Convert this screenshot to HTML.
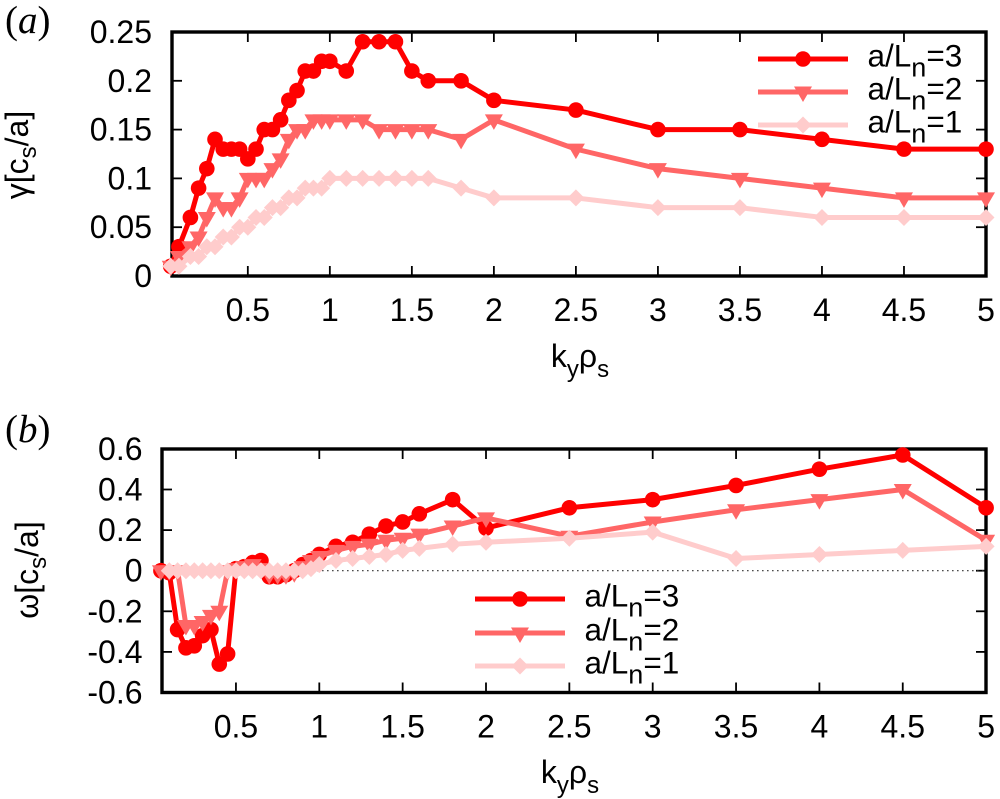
<!DOCTYPE html>
<html>
<head>
<meta charset="utf-8">
<style>
html,body{margin:0;padding:0;background:#fff;}
svg{display:block;}
text{font-family:"Liberation Sans",sans-serif;fill:#000;}
</style>
</head>
<body>
<svg id="chart" width="1000" height="799" viewBox="0 0 1000 799" xmlns="http://www.w3.org/2000/svg"></svg>
<script>
// ---- data ----
const xTickValues = [0.5, 1, 1.5, 2, 2.5, 3, 3.5, 4, 4.5, 5];
const xTickLabels = ['0.5', '1', '1.5', '2', '2.5', '3', '3.5', '4', '4.5', '5'];
const gammaTickValues = [0, 0.05, 0.1, 0.15, 0.2, 0.25];
const gammaTickLabels = ['0', '0.05', '0.1', '0.15', '0.2', '0.25'];
const omegaTickValues = [-0.6, -0.4, -0.2, 0, 0.2, 0.4, 0.6];
const omegaTickLabels = ['-0.6', '-0.4', '-0.2', '0', '0.2', '0.4', '0.6'];

const kGamma = [0.03,0.08,0.15,0.2,0.25,0.3,0.35,0.4,0.45,0.5,0.55,0.6,0.65,0.7,0.75,0.8,0.85,0.9,0.95,1,1.1,1.2,1.3,1.4,1.5,1.6,1.8,2,2.5,3,3.5,4,4.5,5];
const gammaLn3 = [0.01,0.03,0.06,0.09,0.11,0.14,0.13,0.13,0.13,0.12,0.13,0.15,0.15,0.16,0.18,0.19,0.21,0.21,0.22,0.22,0.21,0.24,0.24,0.24,0.21,0.2,0.2,0.18,0.17,0.15,0.15,0.14,0.13,0.13];
const gammaLn2 = [0.01,0.02,0.03,0.04,0.06,0.08,0.07,0.07,0.08,0.1,0.1,0.1,0.11,0.12,0.14,0.15,0.15,0.16,0.16,0.16,0.16,0.16,0.15,0.15,0.15,0.15,0.14,0.16,0.13,0.11,0.1,0.09,0.08,0.08];
const gammaLn1 = [0.01,0.01,0.02,0.02,0.03,0.03,0.04,0.04,0.05,0.05,0.06,0.06,0.07,0.07,0.08,0.08,0.09,0.09,0.09,0.1,0.1,0.1,0.1,0.1,0.1,0.1,0.09,0.08,0.08,0.07,0.07,0.06,0.06,0.06];

const kOmega = [0.05,0.1,0.15,0.2,0.25,0.3,0.35,0.4,0.45,0.5,0.55,0.6,0.65,0.7,0.75,0.8,0.85,0.9,0.95,1,1.1,1.2,1.3,1.4,1.5,1.6,1.8,2,2.5,3,3.5,4,4.5,5];
const omegaLn3 = [0,-0.01,-0.29,-0.38,-0.37,-0.32,-0.29,-0.46,-0.41,0.01,0.02,0.04,0.05,-0.03,-0.03,-0.02,0,0.03,0.05,0.08,0.12,0.14,0.18,0.22,0.24,0.28,0.35,0.21,0.31,0.35,0.42,0.5,0.57,0.31];
const omegaLn2 = [0,0,0,-0.27,-0.27,-0.25,-0.22,-0.2,0,0.01,0.02,0.03,0.01,-0.02,-0.02,-0.02,-0.01,0.02,0.05,0.07,0.1,0.12,0.13,0.15,0.16,0.18,0.22,0.26,0.17,0.24,0.3,0.35,0.4,0.15];
const kOmegaLight = [0.1,0.15,0.2,0.25,0.3,0.35,0.4,0.45,0.5,0.55,0.6,0.65,0.7,0.75,0.8,0.85,0.9,0.95,1,1.1,1.2,1.3,1.4,1.5,1.6,1.8,2,2.5,3,3.5,4,4.5,5];
const omegaLn1 = [0,0,0,0,0,0,0,0,0,0,0,0,0,0,0,0,0,0.01,0.03,0.05,0.06,0.07,0.08,0.1,0.11,0.13,0.14,0.16,0.19,0.06,0.08,0.1,0.12];

const seriesLabels = ['3', '2', '1'];

// ---- helpers ----
const NS = 'http://www.w3.org/2000/svg';
const svg = document.getElementById('chart');
const COLORS = ['#ff0000', '#ff6666', '#ffcccc'];
function mk(tag, attrs, parent) {
  const el = document.createElementNS(NS, tag);
  for (const k in attrs) el.setAttribute(k, attrs[k]);
  (parent || svg).appendChild(el);
  return el;
}
function marker(group, kind, x, y, color) {
  let el;
  if (kind === 0) {
    el = mk('circle', {cx: x, cy: y, r: 7.8, fill: color}, group);
  } else if (kind === 1) {
    el = mk('polygon', {points: (x-9)+','+(y-5.5)+' '+(x+9)+','+(y-5.5)+' '+x+','+(y+10), fill: color}, group);
  } else {
    el = mk('polygon', {points: (x-8.5)+','+y+' '+x+','+(y-8.5)+' '+(x+8.5)+','+y+' '+x+','+(y+8.5), fill: color}, group);
  }
  return el;
}
function drawSeries(parent, xs, ys, xFn, yFn, kind, name) {
  const g = mk('g', {}, parent);
  
  
  const pts = xs.map((k, i) => xFn(k) + ',' + yFn(ys[i])).join(' ');
  const line = mk('polyline', {points: pts, fill: 'none', stroke: COLORS[kind], 'stroke-width': 5, 'stroke-linejoin': 'round'}, g);
  
  
  xs.forEach((k, i) => {
    const m = marker(g, kind, xFn(k), yFn(ys[i]), COLORS[kind]);
    
    
  });
}
function legendEntry(parent, x1, x2, textX, y, kind) {
  const g = mk('g', {}, parent);
  
  
  mk('line', {x1: x1, x2: x2, y1: y, y2: y, stroke: COLORS[kind], 'stroke-width': 5}, g);
  marker(g, kind, (x1 + x2) / 2, y, COLORS[kind]);
  const t = mk('text', {x: textX, y: y + 7.5, 'font-size': 31.5}, g);
  t.appendChild(document.createTextNode('a/L'));
  const sub = mk('tspan', {'font-size': 27, dy: 10}, t);
  sub.textContent = 'n';
  const rest = mk('tspan', {dy: -10}, t);
  rest.textContent = '=' + seriesLabels[kind];
}
function drawAxes(parent, box, xFn, yFn, yVals, yLabels, yLabelRight) {
  const tickG = mk('g', {}, parent);
  
  
  xTickValues.forEach((v, i) => {
    const x = xFn(v);
    mk('line', {x1: x, x2: x, y1: box.b, y2: box.b - 10, stroke: '#000', 'stroke-width': 1.8}, tickG);
    mk('line', {x1: x, x2: x, y1: box.t, y2: box.t + 10, stroke: '#000', 'stroke-width': 1.8}, tickG);
    const t = mk('text', {x: x, y: box.b + box.xLab, 'font-size': 32, 'text-anchor': 'middle'}, tickG);
    t.textContent = xTickLabels[i];
    
    
  });
  yVals.forEach((v, i) => {
    const y = yFn(v);
    mk('line', {x1: box.l, x2: box.l + 10, y1: y, y2: y, stroke: '#000', 'stroke-width': 1.8}, tickG);
    mk('line', {x1: box.r, x2: box.r - 10, y1: y, y2: y, stroke: '#000', 'stroke-width': 1.8}, tickG);
    const t = mk('text', {x: yLabelRight, y: y + 11, 'font-size': 32, 'text-anchor': 'end'}, tickG);
    t.textContent = yLabels[i];
    
    
  });
  const frame = mk('rect', {x: box.l, y: box.t, width: box.r - box.l, height: box.b - box.t, fill: 'none', stroke: '#000', 'stroke-width': 3.4}, parent);
  
  
}
function xAxisTitle(parent, cx, y) {
  const t = mk('text', {x: cx, y: y, 'font-size': 32, 'text-anchor': 'middle'}, parent);
  
  
  t.appendChild(document.createTextNode('k'));
  const s1 = mk('tspan', {'font-size': 24, dy: 10}, t);
  s1.textContent = 'y';
  const r = mk('tspan', {dy: -10}, t);
  r.textContent = 'ρ';
  const s2 = mk('tspan', {'font-size': 24, dy: 10}, t);
  s2.textContent = 's';
}
function yAxisTitle(parent, x, y, sym) {
  const t = mk('text', {x: 0, y: 0, 'font-size': 32, 'text-anchor': 'middle', transform: 'translate(' + x + ',' + y + ') rotate(-90)'}, parent);
  
  
  t.appendChild(document.createTextNode(sym + '[c'));
  const s = mk('tspan', {'font-size': 24, dy: 8}, t);
  s.textContent = 's';
  const r = mk('tspan', {dy: -8}, t);
  r.textContent = '/a]';
}
function panelLetter(parent, x, y, letter) {
  const t = mk('text', {x: x, y: y, 'font-size': 39}, parent);
  t.setAttribute('style', 'font-family:"Liberation Serif",serif');
  
  
  t.appendChild(document.createTextNode('('));
  const i = mk('tspan', {'font-style': 'italic'}, t);
  i.textContent = letter;
  const c = mk('tspan', {}, t);
  c.textContent = ')';
}

// ---- panel a ----
const boxA = {l: 172, r: 986, t: 32, b: 276, xLab: 45};
const xA = k => 165.8 + k * 164.04;
const yA = v => 276 - v * 976;
const panelA = mk('g', {});


drawAxes(panelA, boxA, xA, yA, gammaTickValues, gammaTickLabels, 152);
drawSeries(panelA, kGamma, gammaLn3, xA, yA, 0, 'gamma-series-ln3');
drawSeries(panelA, kGamma, gammaLn2, xA, yA, 1, 'gamma-series-ln2');
drawSeries(panelA, kGamma, gammaLn1, xA, yA, 2, 'gamma-series-ln1');
legendEntry(panelA, 758, 848, 867.5, 59, 0);
legendEntry(panelA, 758, 848, 867.5, 92, 1);
legendEntry(panelA, 758, 848, 867.5, 125, 2);
xAxisTitle(panelA, 580, 367);
yAxisTitle(panelA, 28, 155, 'γ');
panelLetter(panelA, 5, 33, 'a');

// ---- panel b ----
const boxB = {l: 162, r: 986, t: 449, b: 692.5, xLab: 45};
const xB = k => 152.6 + k * 166.7;
const yB = v => 570.7 - v * 203;
const panelB = mk('g', {});


drawAxes(panelB, boxB, xB, yB, omegaTickValues, omegaTickLabels, 142.5);
const zero = mk('line', {x1: boxB.l, x2: boxB.r, y1: yB(0), y2: yB(0), stroke: '#333', 'stroke-width': 1.2, 'stroke-dasharray': '1.6 3.4'}, panelB);


drawSeries(panelB, kOmega, omegaLn3, xB, yB, 0, 'omega-series-ln3');
drawSeries(panelB, kOmega, omegaLn2, xB, yB, 1, 'omega-series-ln2');
drawSeries(panelB, kOmegaLight, omegaLn1, xB, yB, 2, 'omega-series-ln1');
legendEntry(panelB, 475, 565, 584.5, 599, 0);
legendEntry(panelB, 475, 565, 584.5, 633, 1);
legendEntry(panelB, 475, 565, 584.5, 666, 2);
xAxisTitle(panelB, 570, 783);
yAxisTitle(panelB, 38, 570, 'ω');
panelLetter(panelB, 5, 442, 'b');
</script>
</body>
</html>
